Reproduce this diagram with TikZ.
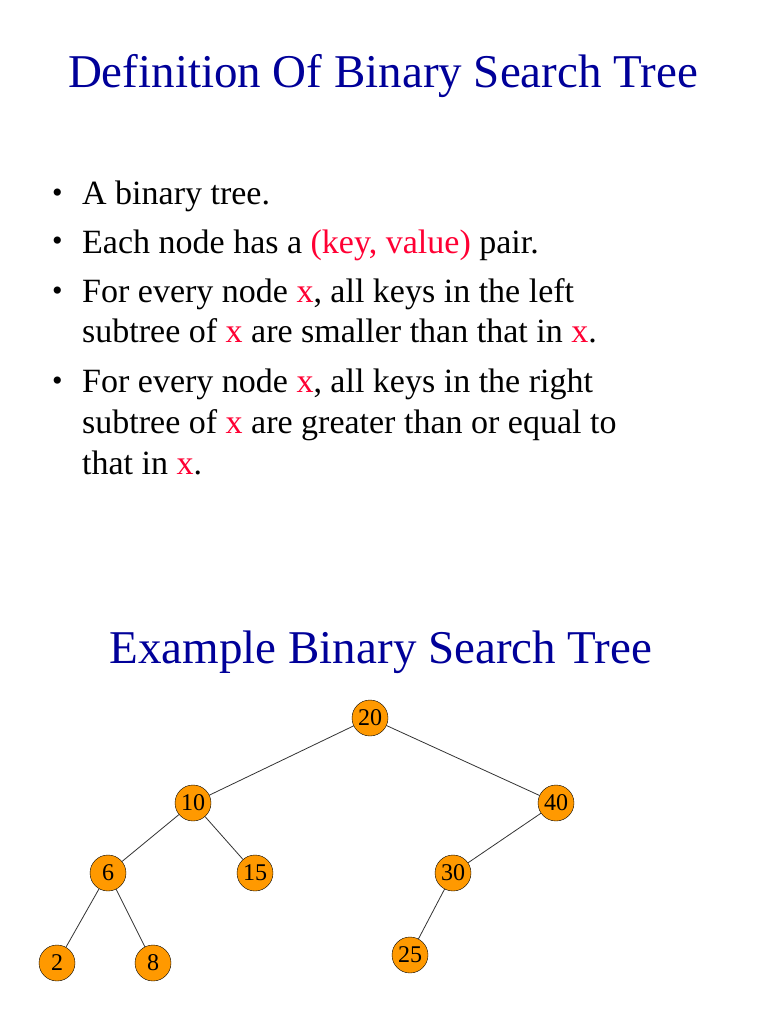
\documentclass[tikz,border=0pt]{standalone}
\usepackage{fontspec}
\setmainfont{Liberation Serif}
\definecolor{ttl}{RGB}{0,0,153}
\definecolor{hl}{RGB}{255,0,51}
\definecolor{nodeor}{RGB}{255,153,0}
\begin{document}
\begin{tikzpicture}[x=1pt,y=-1pt,
  txt/.style={anchor=base west,inner sep=0pt,font=\fontsize{34}{36}\selectfont},
  bul/.style={anchor=base west,inner sep=0pt,font=\fontsize{30}{32}\selectfont},
  tnode/.style={circle,draw=black,fill=nodeor,minimum size=36pt,inner sep=0pt,font=\fontsize{24}{26}\selectfont},
  edge/.style={draw=black!80,line width=0.8pt}]
\useasboundingbox (0,0) rectangle (768,1024);
\node[anchor=base,inner sep=0pt,text=ttl,font=\fontsize{47}{50}\selectfont] (t1) at (383,88) {Definition Of Binary Search Tree};
\node[bul] (b1) at (52,203) {•};
\node[txt] (l1) at (82,205) {A binary tree.};
\node[bul] (b2) at (52,251) {•};
\node[txt] (l2) at (82,253) {Each node has a \textcolor{hl}{(key, value)} pair.};
\node[bul] (b3) at (52,300) {•};
\node[txt] (l3) at (82,302) {For every node \textcolor{hl}{x}, all keys in the left};
\node[txt] (l4) at (82,342) {subtree of \textcolor{hl}{x} are smaller than that in \textcolor{hl}{x}.};
\node[bul] (b4) at (52,390) {•};
\node[txt] (l5) at (82,392) {For every node \textcolor{hl}{x}, all keys in the right};
\node[txt] (l6) at (82,433) {subtree of \textcolor{hl}{x} are greater than or equal to};
\node[txt] (l7) at (82,474) {that in \textcolor{hl}{x}.};
\node[anchor=base,inner sep=0pt,text=ttl,font=\fontsize{47}{50}\selectfont] (t2) at (381,663) {Example Binary Search Tree};
\node[tnode] (n20) at (370,718) {20};
\node[tnode] (n10) at (193,803) {10};
\node[tnode] (n40) at (556,803) {40};
\node[tnode] (n6) at (108,873) {6};
\node[tnode] (n15) at (255,873) {15};
\node[tnode] (n30) at (453,873) {30};
\node[tnode] (n2) at (57,963) {2};
\node[tnode] (n8) at (153,963) {8};
\node[tnode] (n25) at (410,955) {25};
\draw[edge] (n20) -- (n10);
\draw[edge] (n20) -- (n40);
\draw[edge] (n10) -- (n6);
\draw[edge] (n10) -- (n15);
\draw[edge] (n40) -- (n30);
\draw[edge] (n6) -- (n2);
\draw[edge] (n6) -- (n8);
\draw[edge] (n30) -- (n25);
\end{tikzpicture}
\end{document}
